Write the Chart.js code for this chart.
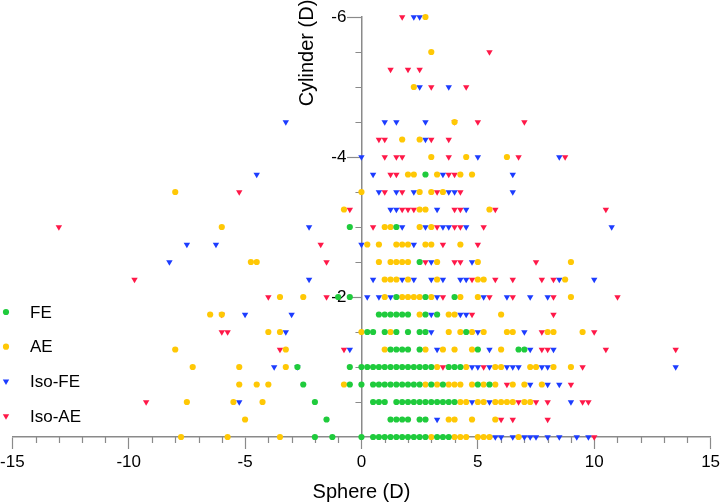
<!DOCTYPE html>
<html><head><meta charset="utf-8">
<script src="https://cdn.jsdelivr.net/npm/chart.js@4/dist/chart.umd.min.js"></script>
<style>html,body{margin:0;padding:0;background:#fff}#wrap{width:720px;height:504px;position:relative}</style>
</head><body><div id="wrap"><canvas id="c"></canvas></div>
<script>
// ---- data: [sphere (D), cylinder (D)] ----
const seriesNames = ['FE', 'AE', 'Iso-FE', 'Iso-AE'];
const xMajorTicks = [-15, -10, -5, 0, 5, 10, 15];
const yMajorTicks = [-6, -4, -2];

const fePoints = [
  [-0.5,-3],[-1,-2],[-0.5,-2],[-2.75,-1],[-0.5,-1],[-2.5,-0.75],[-0.5,-0.75],[-2,-0.5],[-1.5,-0.25],[-2,0],[-1.25,0],
  [2.75,-3.75],[1.5,-3],[2.5,-2.5],[1.5,-2],[2.75,-2],[4,-2],
  [0.75,-1.75],[1,-1.75],[1.25,-1.75],[1.5,-1.75],[1.75,-1.75],[2,-1.75],[2.75,-1.75],[3.25,-1.75],
  [0.25,-1.5],[0.5,-1.5],[1,-1.5],[1.5,-1.5],[2,-1.5],[2.5,-1.5],[2.75,-1.5],[4.5,-1.5],
  [1.25,-1.25],[1.5,-1.25],[1.75,-1.25],[2,-1.25],[2.5,-1.25],[5,-1.25],[6.75,-1.25],[7,-1.25],
  [0,-1],[0.25,-1],[0.5,-1],[0.75,-1],[1,-1],[1.25,-1],[1.5,-1],[1.75,-1],[2,-1],[2.25,-1],[2.5,-1],[2.75,-1],[3,-1],[3.75,-1],[4,-1],[4.25,-1],
  [0,-0.75],[0.5,-0.75],[0.75,-0.75],[1,-0.75],[1.25,-0.75],[1.5,-0.75],[1.75,-0.75],[2,-0.75],[2.25,-0.75],[2.5,-0.75],[3,-0.75],[3.5,-0.75],[5,-0.75],[5.5,-0.75],
  [0.5,-0.5],[0.75,-0.5],[1,-0.5],[1.5,-0.5],[1.75,-0.5],[2,-0.5],[2.25,-0.5],[2.5,-0.5],[2.75,-0.5],[3,-0.5],[3.25,-0.5],[3.5,-0.5],[3.75,-0.5],[4,-0.5],
  [1.25,-0.25],[1.5,-0.25],[1.75,-0.25],[2,-0.25],[2.5,-0.25],[2.75,-0.25],
  [0,0],[0.5,0],[0.75,0],[1,0],[1.25,0],[1.5,0],[1.75,0],[2,0],[2.25,0],[2.5,0],[2.75,0],[3.25,0],[3.5,0],[3.75,0]
];

const aePoints = [
  [-8,-3.5],[-0.75,-3.25],[-6,-3],[-4.75,-2.5],[-4.5,-2.5],[-3.5,-2],[-2.5,-2],[-6.5,-1.75],[-6,-1.75],[-4,-1.5],[-3.5,-1.5],
  [-8,-1.25],[-3.25,-1.25],[-7.25,-1],[-5.25,-1],[-3.25,-1],[-5.25,-0.75],[-4.5,-0.75],[-4,-0.75],[-0.75,-0.75],
  [-7.5,-0.5],[-5.5,-0.5],[-4.25,-0.5],[-5,-0.25],[-7.75,0],[-5.75,0],[-3.5,0],
  [2.75,-6],[3,-5.5],[2.25,-5],[4,-4.5],[1.75,-4.25],[2.5,-4.25],
  [3,-4],[4.5,-4],[6.25,-4],
  [2,-3.75],[2.25,-3.75],[3.25,-3.75],[4.25,-3.75],[4.75,-3.75],
  [0,-3.5],[2.5,-3.5],[3,-3.5],[3.5,-3.5],
  [2.5,-3.25],[2.75,-3.25],[5.5,-3.25],
  [1,-3],[1.25,-3],[2.5,-3],[3,-3],
  [0.25,-2.75],[0.75,-2.75],[1.5,-2.75],[1.75,-2.75],[2,-2.75],[2.75,-2.75],[3,-2.75],[4.25,-2.75],
  [0.75,-2.5],[1.25,-2.5],[1.5,-2.5],[1.75,-2.5],[2,-2.5],[3.25,-2.5],[5,-2.5],[9,-2.5],
  [1,-2.25],[1.25,-2.25],[1.5,-2.25],[2,-2.25],[3.25,-2.25],[5,-2.25],[5.25,-2.25],[8.75,-2.25],
  [1,-2],[1.75,-2],[2,-2],[2.25,-2],[2.5,-2],[3,-2],[4.25,-2],[5,-2],[9,-2],
  [2.5,-1.75],[3.75,-1.75],[4,-1.75],[6,-1.75],
  [0,-1.5],[1.25,-1.5],[3.75,-1.5],[4.25,-1.5],[4.75,-1.5],[5.25,-1.5],[6.25,-1.5],[6.5,-1.5],[8,-1.5],[8.25,-1.5],[9.5,-1.5],
  [1,-1.25],[2.75,-1.25],[3.5,-1.25],[4,-1.25],[4.75,-1.25],[6,-1.25],
  [3.25,-1],[4.5,-1],[5.75,-1],[6,-1],[7.25,-1],[7.5,-1],[8.25,-1],[9,-1],
  [2.75,-0.75],[3.25,-0.75],[3.75,-0.75],[4,-0.75],[4.25,-0.75],[4.75,-0.75],[5.25,-0.75],[5.75,-0.75],[6.5,-0.75],[7,-0.75],[7.75,-0.75],
  [4.25,-0.5],[4.5,-0.5],[5,-0.5],[5.25,-0.5],[5.75,-0.5],[6,-0.5],[6.25,-0.5],[6.5,-0.5],[7,-0.5],[7.25,-0.5],
  [3.75,-0.25],[4,-0.25],[4.75,-0.25],[5.75,-0.25],
  [3,0],[4,0],[4.25,0],[4.5,0],[5,0],[5.25,0],[5.5,0],[6.75,0]
];

const isoFePoints = [
  [-3.25,-4.5],[0,-4],[-4.5,-3.75],[-2.25,-3],[-7.5,-2.75],[-6.25,-2.75],[0,-2.75],[-8.25,-2.5],[-2.25,-2.25],
  [-5,-1.75],[-3,-1.75],[-3.25,-1.5],[-0.5,-1.25],[-3.75,-1],[-2.75,-1],[-5.25,-0.5],
  [2.25,-6],[2.5,-6],[2.5,-5],[3.75,-5],[1,-4.5],[1.5,-4.5],[2.75,-4.5],[2.75,-4.25],
  [5,-4],[8.5,-4],
  [0.5,-3.75],[3.5,-3.75],[6.5,-3.75],
  [0.75,-3.5],[1.5,-3.5],[2.25,-3.5],[3.75,-3.5],[4,-3.5],[6.5,-3.5],
  [1.25,-3.25],[1.5,-3.25],[3.25,-3.25],[4.5,-3.25],
  [1.75,-3],[2.75,-3],[3.5,-3],[3.75,-3],[4.5,-3],[10.75,-3],
  [2.25,-2.75],
  [3,-2.5],[4.75,-2.5],
  [0.5,-2.25],[1.75,-2.25],[2.25,-2.25],[3,-2.25],[3.5,-2.25],[4.25,-2.25],[4.5,-2.25],[8.5,-2.25],[10,-2.25],
  [0.25,-2],[0.75,-2],[1.25,-2],[3.25,-2],[5.25,-2],[6.25,-2],[7.25,-2],[8,-2],
  [3,-1.75],[4.25,-1.75],[4.5,-1.75],
  [3,-1.5],[5,-1.5],[7,-1.5],
  [3.25,-1.25],[5.5,-1.25],[7.25,-1.25],[8.25,-1.25],
  [4.75,-1],[5,-1],[5.5,-1],[6.25,-1],[6.5,-1],[6.75,-1],[7.75,-1],[8,-1],[13.5,-1],
  [7.25,-0.75],[8,-0.75],[8.5,-0.75],
  [4.75,-0.5],[5.5,-0.5],[9,-0.5],
  [3.25,-0.25],
  [5.75,0],[6,0],[6.5,0],[7,0],[7.25,0],[7.5,0],[8,0],[8.5,0],[9.25,0],[9.75,0]
];

const isoAePoints = [
  [-5.25,-3.5],[-0.5,-3.25],[-13,-3],[-1.75,-2.75],[-1.5,-2.5],[-9.75,-2.25],[-4,-2],[-1.5,-2],[-6,-1.75],[-6,-1.5],[-5.75,-1.5],
  [-3.5,-1.25],[-0.75,-1.25],[-9.25,-0.5],
  [1.75,-6],[5.5,-5.5],[1.25,-5.25],[2,-5.25],[2.5,-5.25],[3,-5],[4.5,-5],[4,-4.5],[5,-4.5],[7,-4.5],
  [0.75,-4.25],[1,-4.25],[3,-4.25],[3.75,-4.25],
  [1,-4],[1.5,-4],[1.75,-4],[3.75,-4],[6.75,-4],[8.75,-4],
  [1.25,-3.75],[1.5,-3.75],[3.75,-3.75],[4,-3.75],
  [1,-3.5],[1.75,-3.5],[3.25,-3.5],[4.25,-3.5],
  [1.75,-3.25],[2,-3.25],[2.25,-3.25],[4,-3.25],[4.25,-3.25],[5.75,-3.25],[10.5,-3.25],
  [0.5,-3],[3.25,-3],[4,-3],[4.25,-3],[5.25,-3],
  [3.5,-2.75],[5,-2.75],
  [2.75,-2.5],[4,-2.5],[4.25,-2.5],[7.5,-2.5],
  [4.75,-2.25],[5.75,-2.25],[6.5,-2.25],[7.75,-2.25],[8.25,-2.25],
  [3.5,-2],[5.5,-2],[6.5,-2],[8.25,-2],[11,-2],
  [4.75,-1.75],[8.25,-1.75],
  [7.75,-1.5],[10,-1.5],
  [7.75,-1.25],[8,-1.25],[10.5,-1.25],[13.5,-1.25],
  [3.5,-1],[5.25,-1],[9.5,-1],
  [6.25,-0.75],[9,-0.75],
  [6.75,-0.5],[7.5,-0.5],[8,-0.5],[9.5,-0.5],[9.75,-0.5],
  [6,-0.25],[6.5,-0.25],[8,-0.25],
  [10,0]
];

// ---- styling ----
const FONT = "'Liberation Sans', Arial, Helvetica, sans-serif";
const AXIS = '#8a8a8a';
const COLORS = ['#1fcb3c', '#ffc805', '#1c3cff', '#ff1848'];
const STYLES = ['circle', 'circle', 'triangle', 'triangle'];
const RADII = [3.1, 3.1, 3.7, 3.7];
const allPoints = [fePoints, aePoints, isoFePoints, isoAePoints];

const isMajorX = v => xMajorTicks.some(t => Math.abs(t - v) < 1e-6);
const isMajorY = v => yMajorTicks.some(t => Math.abs(t - v) < 1e-6) || Math.abs(v) < 1e-6;

const datasets = seriesNames.map((name, i) => ({
  label: name,
  data: allPoints[i].map(p => ({x: p[0], y: p[1]})),
  pointStyle: STYLES[i],
  rotation: STYLES[i] === 'triangle' ? 180 : 0,
  pointRadius: RADII[i],
  pointHoverRadius: RADII[i],
  backgroundColor: COLORS[i],
  borderColor: COLORS[i],
  pointBorderWidth: 0,
  showLine: false,
  clip: false
}));

const minorTicks = {
  id: 'minorTicks',
  beforeDatasetsDraw(chart) {
    const {ctx, chartArea} = chart;
    const xs = chart.scales.x, ys = chart.scales.y;
    ctx.save();
    ctx.strokeStyle = AXIS;
    ctx.lineWidth = 1.2;
    ctx.beginPath();
    xs.ticks.forEach(t => {
      if (!isMajorX(t.value)) {
        const px = Math.round(xs.getPixelForValue(t.value)) + 0.5;
        ctx.moveTo(px, chartArea.bottom);
        ctx.lineTo(px, chartArea.bottom + 6);
      }
    });
    const x0 = xs.getPixelForValue(0);
    ys.ticks.forEach(t => {
      if (!isMajorY(t.value)) {
        const py = Math.round(ys.getPixelForValue(t.value)) + 0.5;
        ctx.moveTo(x0 - 6, py);
        ctx.lineTo(x0, py);
      }
    });
    ctx.stroke();
    ctx.restore();
  }
};

const yTitle = {
  id: 'yTitle',
  afterDraw(chart) {
    const {ctx, chartArea} = chart;
    const x0 = chart.scales.x.getPixelForValue(0);
    ctx.save();
    ctx.translate(x0 - 54, chartArea.top + 36);
    ctx.rotate(-Math.PI / 2);
    ctx.font = '20px ' + FONT;
    ctx.fillStyle = '#000';
    ctx.textAlign = 'center';
    ctx.textBaseline = 'middle';
    ctx.fillText('Cylinder (D)', 0, 0);
    ctx.restore();
  }
};

const sideLegend = {
  id: 'sideLegend',
  afterDraw(chart) {
    const {ctx, chartArea} = chart;
    ctx.save();
    ctx.font = '17px ' + FONT;
    ctx.textAlign = 'left';
    ctx.textBaseline = 'middle';
    chart.data.datasets.forEach((ds, i) => {
      const y = chartArea.bottom - 125 + i * 34.7;
      ctx.fillStyle = ds.backgroundColor;
      Chart.helpers.drawPoint(ctx, {pointStyle: ds.pointStyle, rotation: ds.rotation, radius: ds.pointRadius, borderWidth: 0}, 6, y);
      ctx.fillStyle = '#000';
      ctx.fillText(ds.label, 30, y + 1);
    });
    ctx.restore();
  }
};

new Chart(document.getElementById('c'), {
  type: 'scatter',
  data: {datasets},
  plugins: [minorTicks, yTitle, sideLegend],
  options: {
    responsive: true,
    maintainAspectRatio: false,
    animation: false,
    events: [],
    layout: {padding: {top: 17, left: 0, right: 0, bottom: 0}},
    plugins: {legend: {display: false}, tooltip: {enabled: false}},
    scales: {
      x: {
        type: 'linear',
        position: 'bottom',
        min: -15, max: 15,
        afterFit(scale) { scale.paddingLeft = 12.3; scale.paddingRight = 9.4; },
        ticks: {
          stepSize: 1, autoSkip: false, maxRotation: 0, padding: 3,
          color: '#000', font: {family: FONT, size: 17},
          callback: v => isMajorX(v) ? String(Math.round(v)) : ''
        },
        grid: {
          drawOnChartArea: false, drawTicks: true, tickLength: 12, tickWidth: 1.2,
          tickColor: c => (c.tick && isMajorX(c.tick.value)) ? AXIS : 'rgba(0,0,0,0)'
        },
        border: {color: AXIS, width: 1.5},
        title: {display: true, text: 'Sphere (D)', color: '#000', font: {family: FONT, size: 20}, padding: {top: 4.6, bottom: 0}}
      },
      y: {
        type: 'linear',
        position: 'center',
        reverse: true,
        min: -6, max: 0,
        ticks: {
          stepSize: 0.5, autoSkip: false, padding: 1,
          color: '#000', font: {family: FONT, size: 17},
          callback: v => yMajorTicks.some(t => Math.abs(t - v) < 1e-6) ? String(Math.round(v)) : ''
        },
        grid: {
          drawOnChartArea: false, drawTicks: true, tickLength: 14, tickWidth: 1.2,
          tickColor: c => (c.tick && yMajorTicks.some(t => Math.abs(t - c.tick.value) < 1e-6)) ? AXIS : 'rgba(0,0,0,0)'
        },
        border: {color: AXIS, width: 1.5},
        title: {display: false}
      }
    }
  }
});
</script>
</body></html>
